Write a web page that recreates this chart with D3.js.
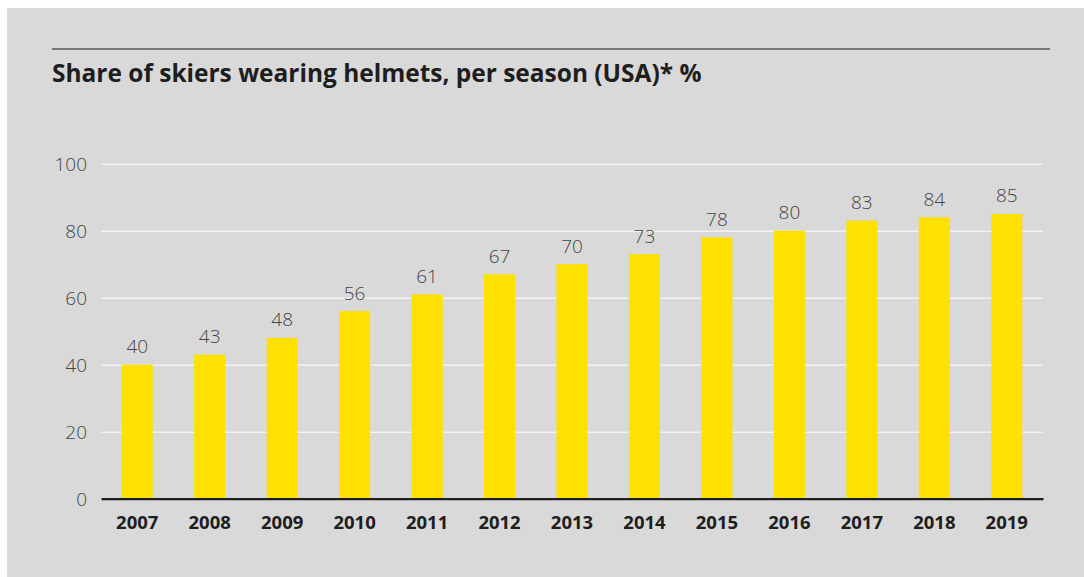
<!DOCTYPE html>
<html>
<head>
<meta charset="utf-8">
<script src="https://cdn.jsdelivr.net/npm/d3@7"></script>
<style>
  html, body { margin: 0; padding: 0; background: #ffffff; }
  svg { display: block; }
</style>
</head>
<body>
<svg id="chart" width="1084" height="577"></svg>
<script>
// Helmet usage among US skiers, by season
const seasons = ["2007","2008","2009","2010","2011","2012","2013","2014","2015","2016","2017","2018","2019"];
const helmetShare = [40, 43, 48, 56, 61, 67, 70, 73, 78, 80, 83, 84, 85];
const yTicks = [0, 20, 40, 60, 80, 100];
const titleText = "Share of skiers wearing helmets, per season (USA)* %";

const svg = d3.select("#chart");
const W = 1084, H = 577;

// panel
svg.append("rect").attr("x", 7).attr("y", 8).attr("width", W - 7).attr("height", H - 8)
  .attr("fill", "#d9d9d9");

// top rule and title
svg.append("line").attr("x1", 52).attr("x2", 1050).attr("y1", 49).attr("y2", 49)
  .attr("stroke", "#777").attr("stroke-width", 2);

const title = svg.append("text").attr("x", 52).attr("y", 82)
  .attr("font-family", "'Open Sans', sans-serif").attr("font-weight", 700)
  .attr("font-size", 20).attr("fill", "#1e1e1e").text(titleText);
// fit title to its measured span
const tw = title.node().getComputedTextLength();
title.attr("font-size", 20 * 650 / tw);

const plot = { left: 101, right: 1043, top: 163.7, bottom: 498.7 };

const x = d3.scaleBand().domain(seasons).range([plot.left, plot.right])
  .paddingInner(0.572).paddingOuter(0.286);
const y = d3.scaleLinear().domain([0, 100]).range([plot.bottom, plot.top]);

// gridlines
const grid = svg.append("g").attr("transform", `translate(${plot.left},0)`)
  .call(d3.axisLeft(y).tickValues(yTicks).tickSize(-(plot.right - plot.left)).tickFormat(""));
grid.select(".domain").remove();
grid.selectAll(".tick line").attr("stroke", "#f2f2f2").attr("stroke-width", 1.5);

// y labels
const yAxis = svg.append("g").attr("transform", `translate(${plot.left - 14},0)`)
  .call(d3.axisLeft(y).tickValues(yTicks).tickSize(0).tickPadding(0));
yAxis.select(".domain").remove();
yAxis.selectAll("text").attr("font-family", "'Open Sans', sans-serif").attr("font-weight", 300)
  .attr("font-size", 19).attr("fill", "#454545").attr("dy", "0.36em");

// bars
svg.append("g").selectAll("rect").data(seasons).join("rect")
  .attr("x", d => x(d)).attr("width", x.bandwidth())
  .attr("y", (d, i) => y(helmetShare[i]))
  .attr("height", (d, i) => y(0) - y(helmetShare[i]))
  .attr("fill", "#ffe100");

// value labels
svg.append("g").selectAll("text").data(seasons).join("text")
  .attr("x", d => x(d) + x.bandwidth() / 2)
  .attr("y", (d, i) => y(helmetShare[i]) - 11.5)
  .attr("text-anchor", "middle")
  .attr("font-family", "'Open Sans', sans-serif").attr("font-weight", 300).attr("font-size", 19)
  .attr("fill", "#454545")
  .text((d, i) => helmetShare[i]);

// x axis
const xAxis = svg.append("g").attr("transform", `translate(0,${plot.bottom})`)
  .call(d3.axisBottom(x).tickSize(0).tickPadding(0));
xAxis.select(".domain").attr("stroke", "#1e1e1e").attr("stroke-width", 2.2);
xAxis.selectAll("text").attr("font-family", "'Open Sans', sans-serif")
  .attr("font-weight", 700).attr("font-size", 18.5).attr("fill", "#1e1e1e")
  .attr("y", 30).attr("dy", 0);
</script>
</body>
</html>
